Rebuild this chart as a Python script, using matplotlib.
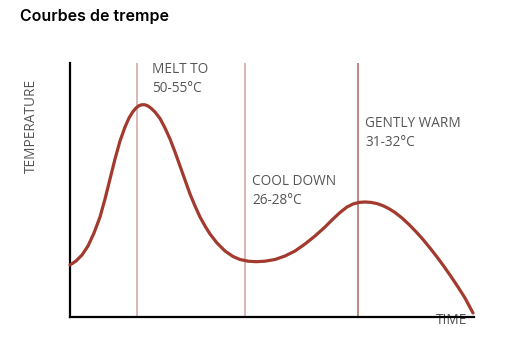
import matplotlib
matplotlib.use("Agg")
import matplotlib.pyplot as plt

# curve (time, temperature), arbitrary units
time = [0, 6, 12, 18, 24, 30, 35, 40, 45, 50, 55, 59, 63, 66, 69, 72, 75, 78,
        81, 85, 90, 95, 100, 105, 110, 115, 120, 125, 130, 135, 140, 147, 155,
        163, 170, 178, 186, 195, 205, 215, 225, 235, 245, 255, 263, 270, 277,
        283, 289, 295, 301, 307, 313, 319, 325, 332, 339, 346, 353, 360, 367,
        374, 381, 388, 395, 399, 403]
temp = [52, 56, 62, 71, 84, 100, 118, 138, 158, 176, 190, 199, 205.5, 209,
        211.3, 212.3, 212.2, 211, 208.8, 205, 198.5, 189, 178, 165, 151, 137,
        123, 111, 100, 91, 83, 74, 66, 60.5, 57.5, 55.8, 55.3, 55.8, 57.5, 61,
        66, 73, 81, 90, 98, 104.5, 110, 113, 114.6, 115, 114.6, 113.4, 111.3,
        108.3, 104.5, 99, 92.5, 85.3, 77.5, 69, 60, 50.5, 40.5, 30, 19, 11.5, 4]

stage_x = [67, 175, 288]
stage_labels = ["MELT TO\n50-55°C", "COOL DOWN\n26-28°C", "GENTLY WARM\n31-32°C"]
stage_label_y = [255, 143, 201]
stage_colors = ["#cfa3a0", "#cfa3a0", "#a8675f"]

fig = plt.figure(figsize=(5.07, 3.45), dpi=100)
ax = fig.add_axes([70 / 507, 28 / 345, 404 / 507, 254 / 345])

for x, c in zip(stage_x, stage_colors):
    ax.axvline(x, color=c, lw=1.1, zorder=1)

ax.plot(time, temp, color="#a23a2e", lw=2.3, solid_capstyle="round",
        solid_joinstyle="round", zorder=3, clip_on=False)

for x, lab, y in zip(stage_x, stage_labels, stage_label_y):
    ax.text(x + 15 if x < 100 else x + 7, y, lab, ha="left", va="top",
            fontsize=9.8, family="Open Sans", color="#555555", linespacing=1.35)

ax.text(382, -3, "TIME", ha="center", va="center", fontsize=9.8,
        family="Open Sans", color="#555555", zorder=0, clip_on=False)

ax.set_xlim(0, 404)
ax.set_ylim(0, 254)
for s in ["top", "right"]:
    ax.spines[s].set_visible(False)
for s in ["left", "bottom"]:
    ax.spines[s].set_linewidth(1.6)
    ax.spines[s].set_color("black")
ax.set_xticks([])
ax.set_yticks([])

fig.text(31 / 507, 1 - 126 / 345, "TEMPERATURE", rotation=90, ha="center",
         va="center", fontsize=9.8, family="Open Sans", color="#555555")
fig.text(20 / 507, 1 - 16 / 345, "Courbes de trempe", ha="left", va="center",
         fontsize=11.5, family="Inter", fontweight="semibold", color="black")

fig.savefig("out.png", dpi=100)
